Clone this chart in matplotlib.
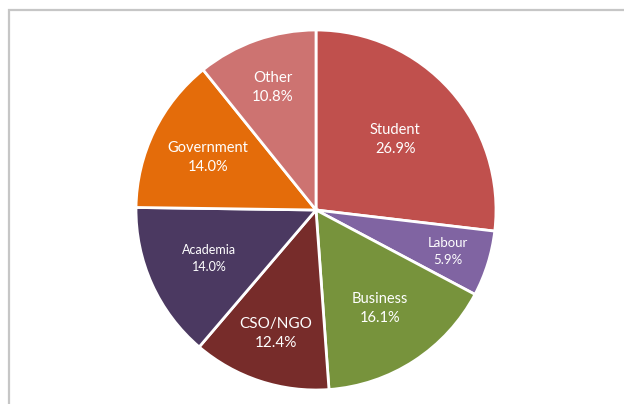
import matplotlib.pyplot as plt
import numpy as np
from matplotlib.patches import Rectangle

# Respondent groups, clockwise from 12 o'clock
groups = ['Student', 'Labour', 'Business', 'CSO/NGO', 'Academia', 'Government', 'Other']
shares = [26.9, 5.9, 16.1, 12.4, 14.0, 14.0, 10.8]
colors = ['#C0504D', '#8064A2', '#77933C', '#772C2A', '#4B3961', '#E46C0A', '#CD7371']

# how far out each label sits (fraction of radius) and its font size
label_radius = [0.59, 0.77, 0.65, 0.72, 0.65, 0.67, 0.72]
label_size = [10.5, 9.5, 10.5, 11, 9, 10.5, 10.8]

plt.rcParams['font.family'] = ['Lato', 'DejaVu Sans']

fig = plt.figure(figsize=(6.24, 4.04), dpi=100)
W, H = 624, 404

# light grey frame running off the right and bottom edges
fig.patches.append(Rectangle((9 / W, -0.1), 1.2, (404 - 10) / H + 0.1,
                             transform=fig.transFigure, fill=False,
                             edgecolor='#C6C6C6', linewidth=1.6))

cx, cy, r = 316, 210, 180
ax = fig.add_axes([(cx - r) / W, (H - cy - r) / H, 2 * r / W, 2 * r / H])

wedges, _ = ax.pie(shares, colors=colors, startangle=90, counterclock=False,
                   radius=1.0, wedgeprops=dict(edgecolor='white', linewidth=2))

# labels go at each wedge's mid-angle
start = 90.0
total = sum(shares)
for name, val, rr, fs in zip(groups, shares, label_radius, label_size):
    sweep = 360.0 * val / total
    mid = np.deg2rad(start - sweep / 2)
    start -= sweep
    x, y = rr * np.cos(mid), rr * np.sin(mid)
    ax.text(x, y, f'{name}\n{val:.1f}%', ha='center', va='center',
            color='white', fontsize=fs, linespacing=1.45)

ax.set_xlim(-1, 1)
ax.set_ylim(-1, 1)
ax.set_aspect('equal')
ax.axis('off')

fig.savefig('out.png', dpi=100)
